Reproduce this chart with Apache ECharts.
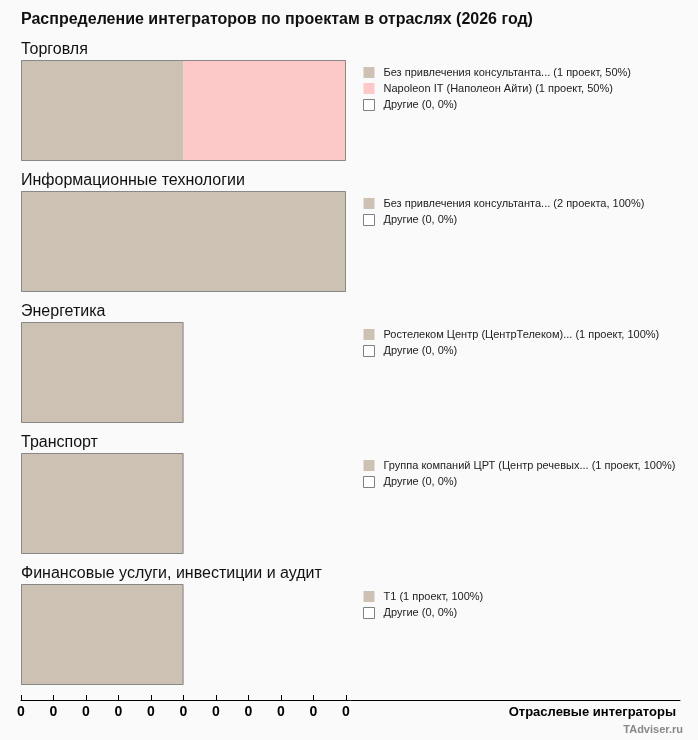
<!DOCTYPE html>
<html>
<head>
<meta charset="utf-8">
<script src="https://cdn.jsdelivr.net/npm/echarts@6/dist/echarts.min.js"></script>
<style>
html,body{margin:0;padding:0;background:#fafafa;}
#c{width:698px;height:740px;}
</style>
</head>
<body>
<div id="c"></div>
<script>
const chartTitle = 'Распределение интеграторов по проектам в отраслях (2026 год)';
const industries = ['Торговля', 'Информационные технологии', 'Энергетика', 'Транспорт', 'Финансовые услуги, инвестиции и аудит'];
const segNames = [
  ['Без привлечения консультанта... (1 проект, 50%)', 'Napoleon IT (Наполеон Айти) (1 проект, 50%)'],
  ['Без привлечения консультанта... (2 проекта, 100%)'],
  ['Ростелеком Центр (ЦентрТелеком)... (1 проект, 100%)'],
  ['Группа компаний ЦРТ (Центр речевых... (1 проект, 100%)'],
  ['Т1 (1 проект, 100%)']
];
const segValues = [
  [1, 1],
  [2],
  [1],
  [1],
  [1]
];
const otherName = 'Другие (0, 0%)';
const otherValues = [0, 0, 0, 0, 0];
const tickValues = [0, 0.2, 0.4, 0.6, 0.8, 1.0, 1.2, 1.4, 1.6, 1.8, 2.0];
const tickLabels = ['0', '0', '0', '0', '0', '0', '0', '0', '0', '0', '0'];
const axisName = 'Отраслевые интеграторы';
const source = 'TAdviser.ru';

const segColors = ['#cdc1b4', '#fcc8c8'];
const FONT = '"Liberation Sans", Arial, sans-serif';
const panelTop = 60, panelStep = 131, barH = 101, left = 21, barW = 325;
const axisMax = 2;
const lineRight = 680;

const chart = echarts.init(document.getElementById('c'), null, {renderer: 'canvas'});

const titles = [{
  text: chartTitle, left: 21, top: 12, padding: 0,
  textStyle: {fontFamily: FONT, fontSize: 16, fontWeight: 'bold', color: '#111'}
}];
const grids = [], xAxes = [], yAxes = [], series = [], legends = [];

industries.forEach((ind, i) => {
  const top = panelTop + panelStep * i;
  titles.push({
    text: ind, left: 21, top: top - 18, padding: 0,
    textStyle: {fontFamily: FONT, fontSize: 16, fontWeight: 'normal', color: '#111'}
  });
  grids.push({left: left, top: top, width: barW, height: barH});
  xAxes.push({type: 'value', gridIndex: i, min: 0, max: axisMax, show: false});
  yAxes.push({type: 'category', gridIndex: i, data: [ind], show: false});
  const legendData = [];
  segNames[i].forEach((nm, j) => {
    series.push({
      type: 'bar', name: nm, stack: 's' + i, xAxisIndex: i, yAxisIndex: i,
      barWidth: '100%', silent: true,
      itemStyle: {color: segColors[j], borderWidth: 0},
      data: [segValues[i][j]]
    });
    legendData.push({name: nm, itemStyle: {color: segColors[j], borderWidth: 0}});
  });
  series.push({
    type: 'bar', name: otherName, stack: 's' + i, xAxisIndex: i, yAxisIndex: i,
    barWidth: '100%', silent: true,
    itemStyle: {color: '#ffffff', borderColor: '#888', borderWidth: 0},
    data: [otherValues[i]]
  });
  legendData.push({name: otherName, itemStyle: {color: '#ffffff', borderColor: '#808080', borderWidth: 1}});
  const total = segValues[i].reduce((a, b) => a + b, 0) + otherValues[i];
  series.push({
    type: 'bar', name: 'frame' + i, xAxisIndex: i, yAxisIndex: i,
    barWidth: '100%', barGap: '-100%', silent: true, z: 5,
    itemStyle: {color: 'rgba(0,0,0,0)', borderColor: '#888', borderWidth: 1},
    data: [total]
  });
  legends.push({
    orient: 'vertical', left: 363, top: top + 7, padding: 0,
    itemWidth: 11, itemHeight: 11, itemGap: 5,
    icon: 'rect', selectedMode: false,
    data: legendData,
    textStyle: {fontFamily: FONT, fontSize: 11, color: '#222', padding: [0, 0, 0, 4]}
  });
});

// bottom axis
const gi = industries.length;
const fullW = lineRight - left;
grids.push({left: left, top: 699, width: fullW, height: 1});
xAxes.push({
  type: 'value', gridIndex: gi, min: 0, max: axisMax * fullW / barW,
  splitLine: {show: false},
  axisLine: {show: true, lineStyle: {color: '#000', width: 1}},
  axisTick: {show: true, inside: true, length: 5, lineStyle: {color: '#000'}, customValues: tickValues},
  axisLabel: {
    customValues: tickValues, margin: 5,
    fontFamily: FONT, fontSize: 14, fontWeight: 'bold', color: '#000',
    formatter: v => tickLabels[Math.round(v / 0.2)]
  },
  name: axisName, nameLocation: 'end', nameGap: -4,
  nameTextStyle: {fontFamily: FONT, fontSize: 13, fontWeight: 'bold', color: '#000',
    align: 'right', verticalAlign: 'top', padding: [6, 0, 0, 0]}
});
yAxes.push({type: 'value', gridIndex: gi, show: false});
titles.push({
  text: source, right: 15, top: 724, padding: 0,
  textStyle: {fontFamily: FONT, fontSize: 11, fontWeight: 'bold', color: '#888'}
});

chart.setOption({
  backgroundColor: '#fafafa',
  animation: false,
  title: titles,
  grid: grids,
  xAxis: xAxes,
  yAxis: yAxes,
  legend: legends,
  series: series
});
</script>
</body>
</html>
